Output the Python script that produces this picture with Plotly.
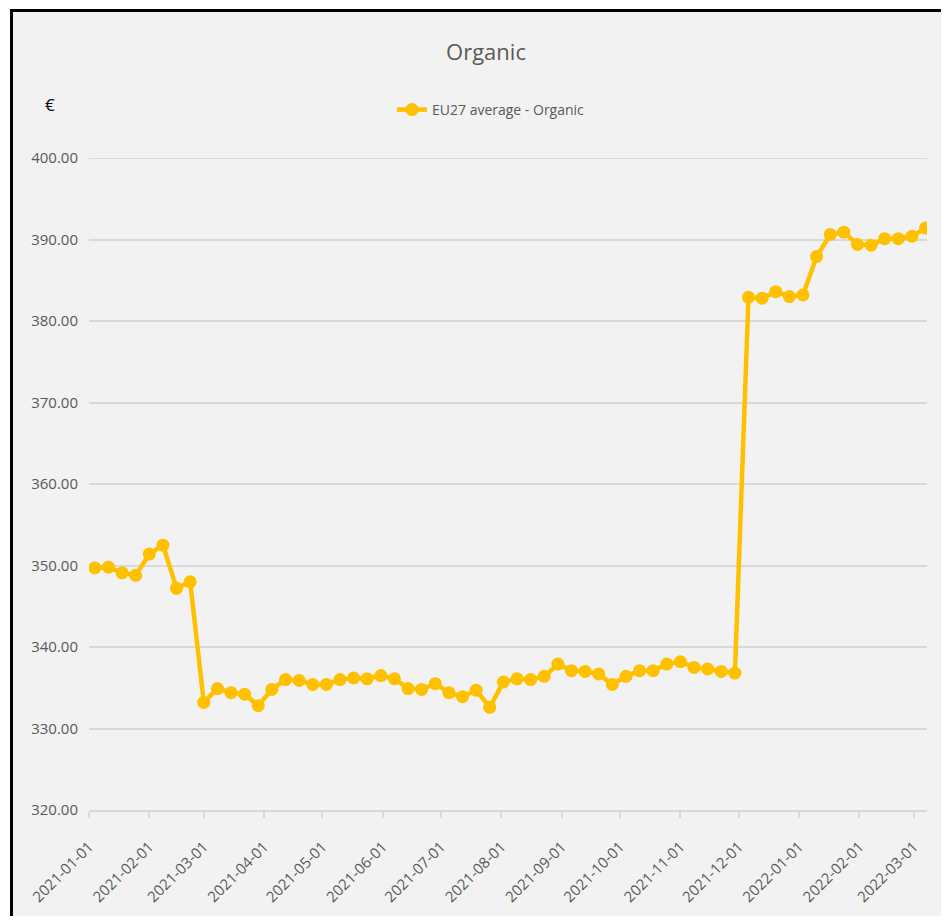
import pandas as pd
import plotly.graph_objects as go

# ---- data ----
start_date = "2021-01-04"
n_weeks = 62
dates = pd.date_range(start_date, periods=n_weeks, freq="7D")
values = [
    349.7, 349.8, 349.1, 348.8, 351.4, 352.5, 347.2, 348.0,
    333.2, 334.9, 334.4, 334.2, 332.8, 334.8, 336.0, 335.9,
    335.4, 335.4, 336.0, 336.2, 336.1, 336.5, 336.1, 334.9,
    334.8, 335.5, 334.4, 333.9, 334.7, 332.6, 335.7, 336.1,
    336.0, 336.4, 337.9, 337.1, 337.0, 336.7, 335.4, 336.4,
    337.1, 337.1, 337.9, 338.2, 337.5, 337.3, 337.0, 336.8,
    382.9, 382.8, 383.6, 383.0, 383.2, 387.9, 390.6, 390.9,
    389.4, 389.3, 390.1, 390.1, 390.4, 391.4,
]
series_name = "EU27 average - Organic"
tick_dates = pd.date_range("2021-01-01", "2022-03-01", freq="MS")
tick_labels = [d.strftime("%Y-%m-%d") for d in tick_dates]

FONT = "Open Sans, sans-serif"
GREY = "#595959"

OFF = 8  # page body margin
W, H = 949 - 2 * OFF, 924 - 2 * OFF
L, T = 81, 150
pw, ph = 838, 652
R, B = W - L - pw, H - T - ph


def px_x(p):
    return (p - OFF - L) / pw


def px_y(p):
    return (T + ph - (p - OFF)) / ph


fig = go.Figure()
fig.add_trace(go.Scatter(
    x=dates, y=values, name=series_name, mode="lines+markers",
    line=dict(color="#FFC000", width=4.5),
    marker=dict(color="#FFC000", size=13),
))

fig.update_layout(
    width=W, height=H,
    margin=dict(l=L, r=R, t=T, b=B, autoexpand=False),
    paper_bgcolor="white",
    plot_bgcolor="rgba(0,0,0,0)",
    font=dict(family=FONT, color=GREY),
    title=dict(text="Organic", x=(486 - OFF) / W, xref="container", xanchor="center",
               y=1 - (52 - OFF) / H, yref="container", yanchor="middle",
               font=dict(size=22, color=GREY, family=FONT)),
    showlegend=True,
    legend=dict(orientation="h", x=px_x(491), xanchor="center",
                y=px_y(110), yanchor="middle",
                font=dict(size=14, color=GREY, family=FONT),
                bgcolor="rgba(0,0,0,0)"),
    xaxis=dict(
        type="date",
        range=["2021-01-01", "2022-03-07 18:00"],
        tickvals=tick_dates, ticktext=tick_labels,
        tickangle=-45,
        tickfont=dict(size=15, color=GREY, family=FONT),
        showgrid=False, zeroline=False,
        showline=True, linecolor="#d9d9d9", linewidth=2,
        ticks="outside", tickcolor="#d9d9d9", ticklen=6, tickwidth=1.5,
        ticklabelstandoff=14,
    ),
    yaxis=dict(
        range=[320, 400], dtick=10, tickformat=".2f",
        tickfont=dict(size=15, color=GREY, family=FONT),
        showgrid=True, gridcolor="#d9d9d9", gridwidth=2,
        zeroline=False, showline=False,
        ticklabelstandoff=10,
    ),
    shapes=[
        dict(type="rect", xref="paper", yref="paper", layer="below",
             x0=px_x(11.5), x1=px_x(990), y0=px_y(990), y1=px_y(10.5),
             line=dict(color="black", width=3), fillcolor="#f2f2f2"),
        dict(type="line", xref="paper", yref="y", layer="below",
             x0=0, x1=1, y0=400, y1=400,
             line=dict(color="#d9d9d9", width=2)),
    ],
    annotations=[dict(
        text="€", xref="paper", yref="paper", x=px_x(50), y=px_y(105),
        xanchor="center", yanchor="middle", showarrow=False,
        font=dict(size=17, color="black", family=FONT),
    )],
)

fig.write_html("out.html")
